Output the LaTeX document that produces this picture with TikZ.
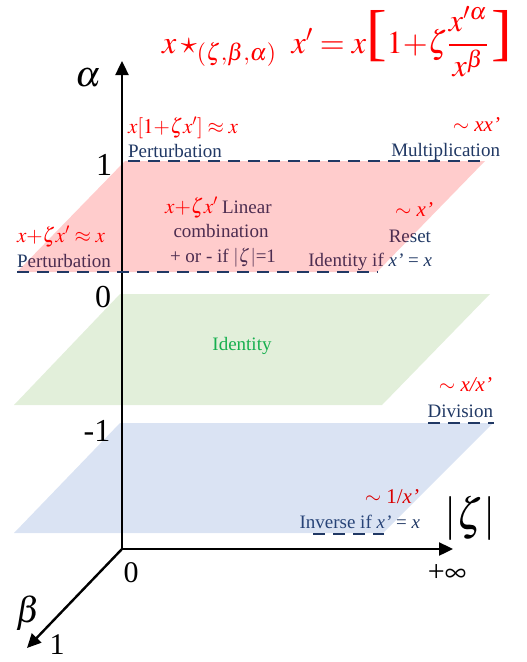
\documentclass[tikz,border=0pt]{standalone}
\usepackage{mathptmx}
\usepackage[no-math]{fontspec}
\setmainfont{Liberation Serif}
\usetikzlibrary{arrows.meta}
\definecolor{navy}{HTML}{203864}
\definecolor{pred}{HTML}{FF0000}
\definecolor{pgreen}{HTML}{70AD47}
\definecolor{pblue}{HTML}{4472C4}
\definecolor{idgreen}{HTML}{00B050}
\newcommand{\bigbrk}[1]{\mbox{\fontsize{62}{62}\selectfont #1}}
\begin{document}
\begin{tikzpicture}[x=1pt,y=-1pt,
  lbl/.style={inner sep=0pt,outer sep=0pt,font=\fontsize{19}{22}\selectfont},
  navytxt/.style={lbl,text=navy},
  redtxt/.style={lbl,text=pred,font=\fontsize{21}{24}\selectfont},
  bigtxt/.style={inner sep=0pt,font=\fontsize{32}{36}\selectfont},
  axisln/.style={line width=2.4pt,-{Triangle[length=14pt,width=13pt]}},
  dashln/.style={draw=navy,line width=2.6pt,dash pattern=on 12pt off 8pt},
  plane/.style={fill opacity=0.2}]
\useasboundingbox (0,0) rectangle (527,662);
% ---- navy / green texts (under the translucent planes)
\node[navytxt,anchor=base west] (pert1) at (128,157) {Perturbation};
\node[navytxt,anchor=base east] (mult) at (500,156) {Multiplication};
\node[navytxt,anchor=base west] (pert2) at (17,267) {Perturbation};
\node[navytxt,anchor=base west] (lin1) at (222,213) {Linear};
\node[navytxt,anchor=base] (lin2) at (221,237) {combination};
\node[navytxt,anchor=base] (lin3) at (223,262) {+ or - if $|\zeta|$=1};
\node[navytxt,anchor=base east] (reset) at (431,242) {Reset};
\node[navytxt,anchor=base east] (idif) at (432,266) {Identity if \textit{x’} = \textit{x}};
\node[lbl,text=idgreen,anchor=base] (ident) at (242,350) {Identity};
\node[navytxt,anchor=base east] (div) at (493,417) {Division};
\node[navytxt,anchor=base east] (inv) at (420,528) {Inverse if \textit{x’} = \textit{x}};
% ---- planes
\fill[pred,plane] (125,161) -- (485,161) -- (377,272) -- (17,272) -- cycle;
\fill[pgreen,plane] (120,294) -- (490,294) -- (382,405) -- (14,405) -- cycle;
\fill[pblue,plane] (120,423) -- (493,423) -- (383,533) -- (14,533) -- cycle;
% ---- red texts
\node[inner sep=0pt,text=pred,anchor=base west,font=\fontsize{32}{36}\selectfont] (formula) at (162,53)
  {$x\star_{(\zeta,\beta,\alpha)}\;\,x'=x\bigbrk{[}1{+}\zeta{\displaystyle\frac{x'^{\alpha}}{x^{\beta}}}\,\bigbrk{]}$};
\node[redtxt,anchor=base west] (r1) at (128,133) {$x[1{+}\zeta x']\approx x$};
\node[redtxt,anchor=base east] (r2) at (500,131) {$\sim$ \textit{xx’}};
\node[redtxt,anchor=base west] (r3) at (17,242) {$x{+}\zeta x'\approx x$};
\node[redtxt,anchor=base east] (r4) at (218,213) {$x{+}\zeta x'$};
\node[redtxt,anchor=base east] (r5) at (433,216) {$\sim$ \textit{x’}};
\node[redtxt,anchor=base east] (r6) at (492,391) {$\sim$ \textit{x/x’}};
\node[redtxt,anchor=base east,text=pred!85!black] (r7) at (419,503) {$\sim$ 1/\textit{x’}};
% ---- axis labels
\node[bigtxt,font=\fontsize{36}{40}\selectfont] (alab) at (88,78) {$\alpha$};
\node[bigtxt] (one) at (104,165) {1};
\node[bigtxt] (zero) at (103,297) {0};
\node[bigtxt] (mone) at (97,431) {-1};
\node[bigtxt,font=\fontsize{30}{34}\selectfont] (orig) at (131,573) {0};
\node[bigtxt,font=\fontsize{30}{34}\selectfont] (inf) at (447,573) {+$\infty$};
\node[bigtxt,font=\fontsize{44}{48}\selectfont] (zlab) at (470,518) {$|\zeta|$};
\node[bigtxt,font=\fontsize{36}{40}\selectfont] (blab) at (28,613) {$\beta$};
\node[bigtxt,font=\fontsize{30}{34}\selectfont] (bone) at (57,645) {1};
% ---- axes
\coordinate (O) at (122,549);
\coordinate (Atip) at (122,61);
\coordinate (Ztip) at (453,549);
\coordinate (Btip) at (27,648);
\draw[axisln] (O) -- (Atip);
\draw[axisln] (O) -- (Ztip);
\draw[axisln,line cap=round] (O) -- (Btip);
% ---- dashed lines
\coordinate (d1a) at (128,161); \coordinate (d1b) at (480,161);
\coordinate (d2a) at (17,272);  \coordinate (d2b) at (378,272);
\coordinate (d3a) at (428,423); \coordinate (d3b) at (494,423);
\coordinate (d4a) at (313,534); \coordinate (d4b) at (384,534);
\draw[dashln] (d1a) -- (d1b);
\draw[dashln] (d2a) -- (d2b);
\draw[dashln] (d3a) -- (d3b);
\draw[dashln] (d4a) -- (d4b);
\end{tikzpicture}
\end{document}
